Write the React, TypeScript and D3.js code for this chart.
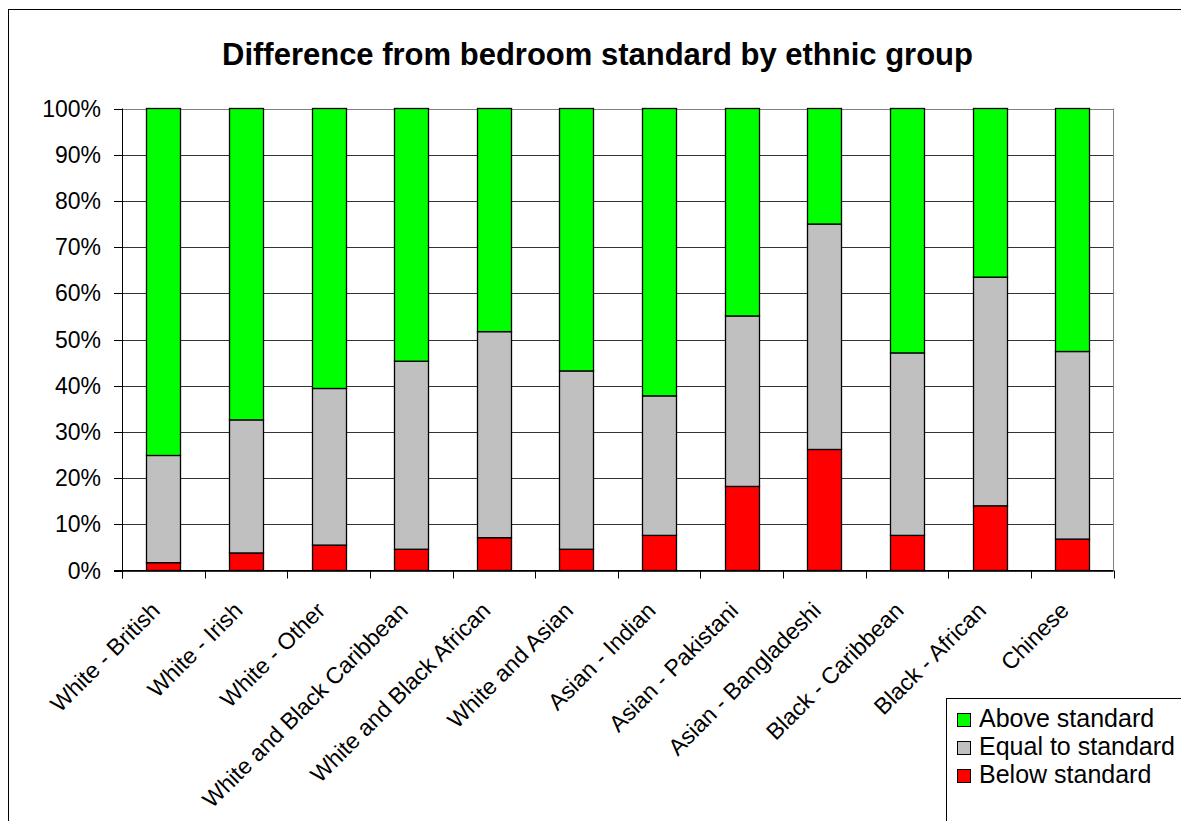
import React from "react";
import * as d3 from "d3";

const categories = [
  "White - British",
  "White - Irish",
  "White - Other",
  "White and Black Caribbean",
  "White and Black African",
  "White and Asian",
  "Asian - Indian",
  "Asian - Pakistani",
  "Asian - Bangladeshi",
  "Black - Caribbean",
  "Black - African",
  "Chinese",
];
const below = [1.7, 3.8, 5.5, 4.6, 7.1, 4.6, 7.6, 18.2, 26.2, 7.6, 14.0, 6.8];
const equal = [23.2, 28.8, 33.9, 40.7, 44.6, 38.6, 30.2, 36.9, 48.8, 39.5, 49.5, 40.6];
const above = [75.1, 67.4, 60.6, 54.7, 48.3, 56.8, 62.2, 44.9, 25.0, 52.9, 36.5, 52.6];
const seriesNames = ["Below standard", "Equal to standard", "Above standard"];
const seriesColors = ["#FF0000", "#C0C0C0", "#00FF00"];
const yTicks = [0, 10, 20, 30, 40, 50, 60, 70, 80, 90, 100];
const title = "Difference from bedroom standard by ethnic group";

export default function App() {
  const W = 1181;
  const H = 821;
  const left = 122;
  const right = 1113.5;
  const top = 108.5;
  const bottom = 570.5;
  const font = "'Liberation Sans', Arial, sans-serif";

  const x = d3
    .scaleBand<string>()
    .domain(categories)
    .range([left, right])
    .paddingInner(0.59)
    .paddingOuter(0.295);
  const y = d3.scaleLinear().domain([0, 100]).range([bottom, top]);

  const rows = categories.map((c, i) => ({
    cat: c,
    below: below[i],
    equal: equal[i],
    above: above[i],
  }));
  const keys = ["below", "equal", "above"];
  const stacked = d3.stack<any>().keys(keys)(rows);

  const step = x.step();
  const boundaries = d3.range(categories.length + 1).map((i) => left + i * step);

  const legendItems = [2, 1, 0];

  return (
    <svg
      width={W}
      height={H}
      style={{ position: "absolute", left: 0, top: 0, background: "#fff" }}
    >
      <rect x={0} y={0} width={W} height={H} fill="#fff" />
      <rect x={8.5} y={9.5} width={W + 20} height={H + 20} fill="#fff" stroke="#000" strokeWidth={1} />
      <text
        x={597.5}
        y={65}
        textAnchor="middle"
        fontFamily={font}
        fontWeight="bold"
        fontSize={31}
        fill="#000"
      >
        {title}
      </text>

      {/* gridlines */}
      {yTicks.map((t) => (
        <line
          key={"g" + t}
          x1={left}
          x2={right}
          y1={Math.round(y(t)) + 0.5}
          y2={Math.round(y(t)) + 0.5}
          stroke={t === 100 ? "#808080" : "#333"}
          strokeWidth={1}
        />
      ))}
      {/* right border */}
      <line x1={right} x2={right} y1={top} y2={bottom} stroke="#808080" strokeWidth={1} />

      {/* bars */}
      {stacked.map((s, si) => (
        <g key={s.key}>
          {s.map((d, i) => (
            <rect
              key={i}
              x={Math.round(x(categories[i])!) + 0.5}
              y={y(d[1])}
              width={Math.round(x.bandwidth())}
              height={y(d[0]) - y(d[1])}
              fill={seriesColors[si]}
              stroke="#000"
              strokeWidth={1.3}
            />
          ))}
        </g>
      ))}

      {/* axes */}
      <line x1={left + 0.5} x2={left + 0.5} y1={top} y2={bottom + 8} stroke="#000" strokeWidth={1} />
      <line x1={left - 8} x2={right} y1={bottom} y2={bottom} stroke="#000" strokeWidth={1} />
      {yTicks.map((t) => (
        <g key={"yt" + t}>
          <line
            x1={left - 8}
            x2={left}
            y1={Math.round(y(t)) + 0.5}
            y2={Math.round(y(t)) + 0.5}
            stroke="#000"
          />
          <text
            x={101}
            y={y(t) + 8}
            textAnchor="end"
            fontFamily={font}
            fontSize={23}
            fill="#000"
          >
            {t + "%"}
          </text>
        </g>
      ))}
      {boundaries.map((b, i) => (
        <line
          key={"xt" + i}
          x1={Math.round(b) + 0.5}
          x2={Math.round(b) + 0.5}
          y1={bottom}
          y2={bottom + 8}
          stroke="#000"
        />
      ))}
      {categories.map((c) => {
        const cx = x(c)! + x.bandwidth() / 2 - 2;
        const cy = 612;
        return (
          <text
            key={"xl" + c}
            transform={`translate(${cx},${cy}) rotate(-45)`}
            textAnchor="end"
            fontFamily={font}
            fontSize={23}
            fill="#000"
          >
            {c}
          </text>
        );
      })}

      {/* legend */}
      <rect x={946.5} y={698.5} width={260} height={150} fill="#fff" stroke="#000" strokeWidth={1} />
      {legendItems.map((si, k) => {
        const by = 727 + k * 28;
        return (
          <g key={"lg" + si}>
            <rect
              x={957.5}
              y={by - 13.5}
              width={13}
              height={13}
              fill={seriesColors[si]}
              stroke="#000"
              strokeWidth={1}
            />
            <text x={979} y={by} fontFamily={font} fontSize={25} fill="#000">
              {seriesNames[si]}
            </text>
          </g>
        );
      })}
    </svg>
  );
}
